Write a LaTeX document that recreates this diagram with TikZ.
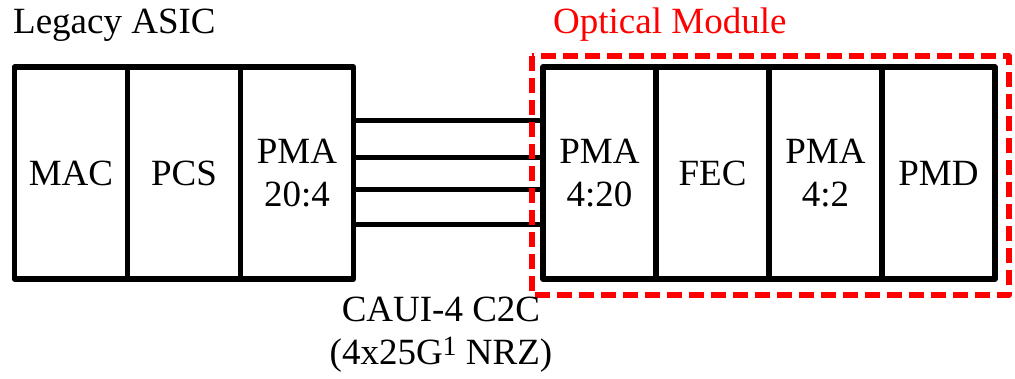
\documentclass[tikz,border=0pt]{standalone}
\usepackage{fontspec}
\setmainfont{Liberation Serif}
\usetikzlibrary{positioning}
\definecolor{modred}{HTML}{FF0000}
\newcommand{\lblfont}{\fontsize{37}{43}\selectfont}
\newcommand{\supnum}[1]{{\fontsize{28}{28}\selectfont\raisebox{9pt}{#1}}}

\tikzset{
  layer/.style={draw,line width=5.5pt,minimum width=113pt,minimum height=212pt,inner sep=0pt,outer sep=0pt,align=center,font=\lblfont},
  wire/.style={line width=5pt},
  optbox/.style={draw=modred,line width=5.5pt,dash pattern=on 15pt off 7pt},
}

\begin{document}
\begin{tikzpicture}[x=1pt,y=-1pt,line join=round]
  \useasboundingbox (0,0) rectangle (1015,378);
  % legacy asic
  \node[anchor=base west,inner sep=0pt,font=\lblfont] (asic) at (13,33) {Legacy ASIC};
  \node[layer] (mac) at (71,173) {MAC};
  \node[layer,right=0pt of mac] (pcs) {PCS};
  \node[layer,right=0pt of pcs] (pmaA) {PMA\\20:4};
  % optical module
  \node[layer] (pmaB) at (599.5,173) {PMA\\4:20};
  \node[layer,right=0pt of pmaB] (fec) {FEC};
  \node[layer,right=0pt of fec] (pmaC) {PMA\\4:2};
  \node[layer,right=0pt of pmaC] (pmd) {PMD};
  \foreach \d in {53,16,-16,-51}{\draw[wire] ([yshift=\d pt]pmaA.east) -- ([yshift=\d pt]pmaB.west);}
  \draw[optbox] ([shift={(-11,-11)}]pmaB.north west) rectangle ([shift={(14,16)}]pmd.south east);
  \node[anchor=base west,inner sep=0pt,font=\lblfont,text=modred] (optlbl) at (553,33) {Optical Module};
  \node[anchor=north,inner sep=0pt,align=center,font=\lblfont] (caui) at (441,297) {CAUI-4 C2C\\(4x25G\supnum{1} NRZ)};
\end{tikzpicture}
\end{document}
